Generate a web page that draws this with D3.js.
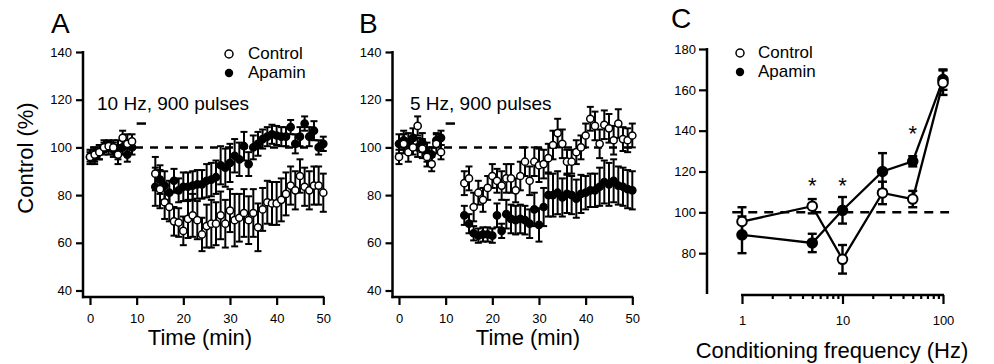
<!DOCTYPE html>
<html>
<head>
<meta charset="utf-8">
<script src="https://cdn.jsdelivr.net/npm/d3@7"></script>
<style>
  body { margin: 0; background: #fff; }
  svg text { font-family: "Liberation Sans", Arial, Helvetica, sans-serif; fill: #000; }
</style>
</head>
<body>
<div id="chart"></div>
<script>
// time points (min) for panels A and B
const times = [0, 1, 2, 3, 4, 5, 6, 7, 8, 9,
  14, 15, 16, 17, 18, 19, 20, 21, 22, 23, 24, 25, 26, 27, 28, 29, 30, 31, 32,
  33, 34, 35, 36, 37, 38, 39, 40, 41, 42, 43, 44, 45, 46, 47, 48, 49, 50];

// panel A: 10 Hz, 900 pulses
const ctlA = [96, 97, 98, 100, 100.5, 100, 97, 104, 101.5, 102.5,
  89, 82.5, 77, 75, 69, 68.5, 65, 70, 71.5, 69.5, 63.5, 67, 68, 68, 71.5, 68, 73.5, 69.5, 70.5,
  72.5, 69.5, 72.5, 66.5, 74, 77, 76.5, 76.5, 78, 80.5, 84, 82, 88, 83.5, 82, 84, 84, 81];
const ctlAErr = [2, 3, 3, 2, 2, 3, 4, 3, 4, 3,
  7, 8, 7, 6, 6, 6, 6, 8, 9, 8, 7, 9, 10, 9, 10, 10, 9, 11, 10,
  10, 10, 10, 10, 9, 9, 9, 9, 9, 9, 8, 8, 7, 8, 8, 8, 8, 8];
const apaA = [96, 96, 98, 100, 100, 99, 99, 100, 97, 100,
  83.5, 86.5, 84, 81, 86, 82, 83.5, 83.5, 84, 84.5, 84.5, 86, 86.5, 87.5, 92.5, 91.5, 93.5, 96.5, 95,
  100.5, 93, 100, 101.5, 103.5, 104.5, 105.5, 105, 104.5, 104.5, 108.5, 101.5, 104.5, 110, 104.5, 107, 100, 101.5];
const apaAErr = [3, 3, 3, 3, 3, 3, 4, 3, 3, 3,
  8, 6, 6, 5, 5, 5, 6, 6, 6, 6, 6, 7, 7, 7, 8, 8, 8, 7, 7,
  6, 5, 5, 5, 4, 4, 4, 4, 4, 4, 3, 4, 4, 3, 4, 4, 3, 3];

// panel B: 5 Hz, 900 pulses
const ctlB = [96, 101.5, 98, 100, 109, 99.5, 96, 93, 101.5, 98,
  85, 87, 75, 81, 78, 83, 88, 86, 84, 87, 87, 82, 88, 94, 86, 94, 92.5, 93, 95.5,
  101, 106, 101.5, 94, 94, 98, 100, 105, 112, 109, 101.5, 109.5, 108, 103, 110, 103.5, 103, 105];
const ctlBErr = [3, 4, 4, 3, 4, 4, 4, 3, 4, 3,
  5, 5, 6, 5, 5, 5, 5, 5, 6, 6, 6, 5, 6, 6, 6, 6, 7, 6, 6,
  6, 6, 6, 5, 5, 5, 5, 5, 5, 6, 6, 6, 6, 6, 6, 5, 5, 5];
const apaB = [101.5, 103, 102, 104, 100, 102, 98, 97, 103, 104,
  71.5, 68, 64, 63, 63.5, 63.5, 63, 71.5, 65, 72, 70, 69.5, 70, 69.5, 68, 74, 67.5, 75, 80,
  80, 81, 79, 80.5, 80, 78.5, 80.5, 81, 82, 82, 83.5, 85.5, 84.5, 86, 84, 83.5, 82.5, 82];
const apaBErr = [4, 4, 4, 4, 4, 4, 4, 3, 3, 3,
  4, 4, 3, 3, 3, 3, 3, 5, 3, 6, 6, 6, 6, 6, 6, 7, 7, 8, 9,
  9, 9, 8, 8, 8, 8, 8, 7, 7, 7, 8, 9, 9, 9, 8, 8, 8, 8];

// panel C: conditioning frequency summary
const freqs = [1, 5, 10, 25, 50, 100];
const ctlC = [95.5, 103, 77, 109.5, 106.5, 163.5];
const ctlCErr = [7, 3.5, 7, 5.5, 4, 6];
const apaC = [89, 85, 101, 120, 125, 165];
const apaCErr = [9, 4.5, 6.5, 9, 2.5, 5];
const starFreqs = [5, 10, 50];
const starLevels = [115.5, 115.5, 141];

// stimulus bar (min) and level
const stimSpan = [10, 12];
const stimLevel = 110;

// tick values
const yTicksAB = [40, 60, 80, 100, 120, 140];
const xTicksAB = [0, 10, 20, 30, 40, 50];
const yTicksC = [80, 100, 120, 140, 160, 180];
const xTicksC = [1, 10, 100];
const xMinorC = [2, 3, 4, 5, 6, 7, 8, 9, 20, 30, 40, 50, 60, 70, 80, 90];
const dashC = [0.8, 115];

const svg = d3.select('#chart').append('svg')
  .attr('width', 994)
  .attr('height', 364);

function styleAxis(g) {
  g.selectAll('.tick line').attr('stroke', '#000').attr('stroke-width', 2.2);
  g.selectAll('.tick text').style('font-size', '13px');
  g.select('.domain').remove();
}

function drawSeries(g, x, y, xs, vals, errs, filled, r, cap, sw) {
  const pts = xs.map((t, i) => ({ t: t, v: vals[i], e: errs[i] }));
  const eb = g.append('g');
  eb.selectAll('line.v').data(pts).enter().append('line')
    .attr('x1', d => x(d.t)).attr('x2', d => x(d.t))
    .attr('y1', d => y(d.v - d.e)).attr('y2', d => y(d.v + d.e))
    .attr('stroke', '#000').attr('stroke-width', sw);
  eb.selectAll('line.t').data(pts).enter().append('line')
    .attr('x1', d => x(d.t) - cap / 2).attr('x2', d => x(d.t) + cap / 2)
    .attr('y1', d => y(d.v + d.e)).attr('y2', d => y(d.v + d.e))
    .attr('stroke', '#000').attr('stroke-width', sw);
  eb.selectAll('line.b').data(pts).enter().append('line')
    .attr('x1', d => x(d.t) - cap / 2).attr('x2', d => x(d.t) + cap / 2)
    .attr('y1', d => y(d.v - d.e)).attr('y2', d => y(d.v - d.e))
    .attr('stroke', '#000').attr('stroke-width', sw);
  g.append('g').selectAll('circle').data(pts).enter().append('circle')
    .attr('cx', d => x(d.t)).attr('cy', d => y(d.v)).attr('r', r)
    .attr('fill', filled ? '#000' : '#fff')
    .attr('stroke', '#000').attr('stroke-width', 1.5);
}

function timePanel(opt) {
  const x = d3.scaleLinear().domain([0, 50]).range(opt.xr);
  const y = d3.scaleLinear().domain([40, 140]).range([290.5, 52]);
  const g = svg.append('g');

  // y axis
  const ya = g.append('g').attr('transform', `translate(${opt.ax},0)`)
    .call(d3.axisLeft(y).tickValues(yTicksAB).tickSize(7).tickPadding(4));
  styleAxis(ya);
  g.append('line').attr('x1', opt.ax).attr('x2', opt.ax)
    .attr('y1', y(140) - 1).attr('y2', opt.ay + 1.2)
    .attr('stroke', '#000').attr('stroke-width', 2.5);

  // x axis
  const xa = g.append('g').attr('transform', `translate(0,${opt.ay})`)
    .call(d3.axisBottom(x).tickValues(xTicksAB).tickSize(8).tickPadding(9));
  styleAxis(xa);
  g.append('line').attr('x1', opt.ax - 1).attr('x2', x(50) + 1)
    .attr('y1', opt.ay).attr('y2', opt.ay)
    .attr('stroke', '#000').attr('stroke-width', 2.5);

  // dashed 100% line
  g.append('line').attr('x1', x(0)).attr('x2', x(50))
    .attr('y1', y(100)).attr('y2', y(100))
    .attr('stroke', '#000').attr('stroke-width', 2.5).attr('stroke-dasharray', '8,7');

  // stimulus bar
  g.append('line').attr('x1', x(stimSpan[0])).attr('x2', x(stimSpan[1]))
    .attr('y1', y(stimLevel)).attr('y2', y(stimLevel))
    .attr('stroke', '#000').attr('stroke-width', 2.5);

  drawSeries(g, x, y, times, opt.apa, opt.apaErr, true, 3.6, 7, 2);
  drawSeries(g, x, y, times, opt.ctl, opt.ctlErr, false, 3.6, 7, 2);

  g.append('text').attr('x', opt.letterX).attr('y', 33)
    .style('font-size', '28px').text(opt.letter);
  g.append('text').attr('x', opt.protoX).attr('y', 110)
    .style('font-size', '19px').text(opt.proto);
  g.append('text').attr('x', opt.tlabX).attr('y', 345)
    .attr('text-anchor', 'middle').style('font-size', '22px').text('Time (min)');
}

timePanel({
  xr: [90, 323.3], ax: 83, ay: 297, letter: 'A', letterX: 51,
  proto: '10 Hz, 900 pulses', protoX: 97, tlabX: 200,
  ctl: ctlA, ctlErr: ctlAErr, apa: apaA, apaErr: apaAErr
});
timePanel({
  xr: [399, 632.3], ax: 392.5, ay: 297, letter: 'B', letterX: 359,
  proto: '5 Hz, 900 pulses', protoX: 410, tlabX: 528,
  ctl: ctlB, ctlErr: ctlBErr, apa: apaB, apaErr: apaBErr
});

// y label for A
svg.append('text')
  .attr('transform', 'translate(33,158) rotate(-90)')
  .attr('text-anchor', 'middle').style('font-size', '22px').text('Control (%)');

// legend helper
function legend(cx, tx, y1, y2) {
  svg.append('circle').attr('cx', cx).attr('cy', y1 - 5).attr('r', 4)
    .attr('fill', '#fff').attr('stroke', '#000').attr('stroke-width', 1.5);
  svg.append('circle').attr('cx', cx).attr('cy', y2 - 5).attr('r', 4.2)
    .attr('fill', '#000');
  svg.append('text').attr('x', tx).attr('y', y1).style('font-size', '17px').text('Control');
  svg.append('text').attr('x', tx).attr('y', y2).style('font-size', '17px').text('Apamin');
}
legend(229, 248, 59, 78);

// panel C
(function () {
  const x = d3.scaleLog().domain([1, 100]).range([742, 943]);
  const y = d3.scaleLinear().domain([60, 180]).range([294, 49]);
  const g = svg.append('g');
  const axX = 707, axY = 295;

  const ya = g.append('g').attr('transform', `translate(${axX},0)`)
    .call(d3.axisLeft(y).tickValues(yTicksC).tickSize(8).tickPadding(3));
  styleAxis(ya);
  g.append('line').attr('x1', axX).attr('x2', axX)
    .attr('y1', y(180) - 1).attr('y2', y(60))
    .attr('stroke', '#000').attr('stroke-width', 2.5);

  const xa = g.append('g').attr('transform', `translate(0,${axY})`)
    .call(d3.axisBottom(x).tickValues(xTicksC).tickFormat(d3.format('d')).tickSize(9).tickPadding(12));
  styleAxis(xa);
  const xm = g.append('g').attr('transform', `translate(0,${axY})`)
    .call(d3.axisBottom(x).tickValues(xMinorC).tickFormat('').tickSize(4));
  styleAxis(xm);
  g.append('line').attr('x1', x(1) - 1).attr('x2', x(100) + 1)
    .attr('y1', axY).attr('y2', axY)
    .attr('stroke', '#000').attr('stroke-width', 2.5);

  g.append('line').attr('x1', x(dashC[0])).attr('x2', x(dashC[1]))
    .attr('y1', y(100)).attr('y2', y(100))
    .attr('stroke', '#000').attr('stroke-width', 2.5).attr('stroke-dasharray', '9,7');

  const line = d3.line().x(d => x(d[0])).y(d => y(d[1]));
  g.append('path').datum(freqs.map((f, i) => [f, apaC[i]])).attr('d', line)
    .attr('fill', 'none').attr('stroke', '#000').attr('stroke-width', 2.3);
  g.append('path').datum(freqs.map((f, i) => [f, ctlC[i]])).attr('d', line)
    .attr('fill', 'none').attr('stroke', '#000').attr('stroke-width', 2.3);

  drawSeries(g, x, y, freqs, apaC, apaCErr, true, 4.8, 9, 2.4);
  drawSeries(g, x, y, freqs, ctlC, ctlCErr, false, 4.8, 9, 2.4);
  g.selectAll('circle').attr('stroke-width', 2);

  g.selectAll('text.star').data(starFreqs).enter().append('text')
    .attr('class', 'star')
    .attr('x', d => x(d)).attr('y', (d, i) => y(starLevels[i]) + 12)
    .attr('text-anchor', 'middle').style('font-size', '22px').text('*');

  g.append('text').attr('x', 671).attr('y', 28).style('font-size', '28px').text('C');
  g.append('text').attr('x', 832).attr('y', 358).attr('text-anchor', 'middle')
    .style('font-size', '22px').text('Conditioning frequency (Hz)');
})();
legend(740, 758, 58, 77);
</script>
</body>
</html>
